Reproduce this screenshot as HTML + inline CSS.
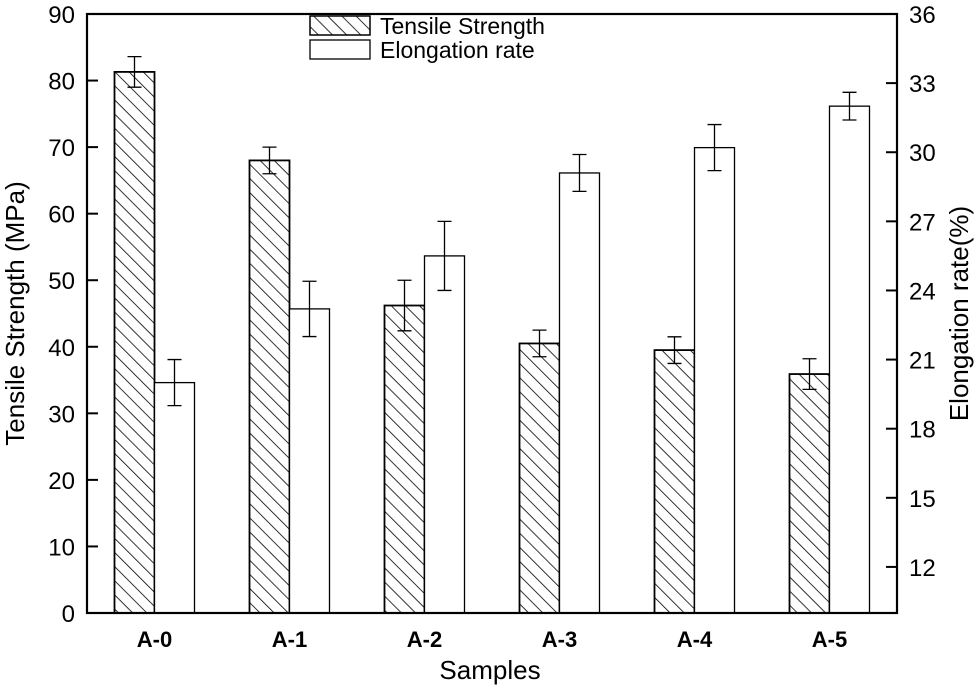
<!DOCTYPE html>
<html><head><meta charset="utf-8"><style>
body{margin:0;background:#fff;}
svg{display:block;font-family:"Liberation Sans",Arial,sans-serif;}
</style></head><body>
<svg id="chart" width="975" height="691" viewBox="0 0 975 691">
<defs>
<pattern id="hatch" patternUnits="userSpaceOnUse" width="10" height="10" patternTransform="rotate(-45)">
<rect width="10" height="10" fill="#fff"/>
<line x1="0" y1="0" x2="0" y2="10" stroke="#000" stroke-width="1.6"/>
</pattern>
</defs>
<g id="plot"></g>
</svg>
<script>
const categories=["A-0","A-1","A-2","A-3","A-4","A-5"];
const tensile=[81.3,68.0,46.2,40.5,39.5,35.9];
const tensileErr=[2.3,2.0,3.8,2.0,2.0,2.3];
const elong=[20.0,23.2,25.5,29.1,30.2,32.0];
const elongErr=[1.0,1.2,1.5,0.8,1.0,0.6];
const leftTicks=[0,10,20,30,40,50,60,70,80,90];
const rightTicks=[12,15,18,21,24,27,30,33,36];

const NS="http://www.w3.org/2000/svg";
const g=document.getElementById('plot');
const L=87,R=897,T=14,B=613;
const yL=v=>B-(v-0)/(90-0)*(B-T);
const yR=v=>B-(v-10)/(36-10)*(B-T);
const band=(R-L)/categories.length;
const xC=i=>L+band*(i+0.5);
const bw=40;
function el(tag,attrs,parent){const e=document.createElementNS(NS,tag);for(const k in attrs)e.setAttribute(k,attrs[k]);(parent||g).appendChild(e);return e;}
function errBar(x,y1,y2){
  return el('path',{d:`M${x},${y1}V${y2}M${x-7},${y1}H${x+7}M${x-7},${y2}H${x+7}`,stroke:'#000','stroke-width':1.3,fill:'none'});
}
categories.forEach((c,i)=>{
  const cx=xC(i);
  const r1=el('rect',{x:cx-bw,y:yL(tensile[i]),width:bw,height:B-yL(tensile[i]),fill:'url(#hatch)',stroke:'#000','stroke-width':1.8});
  
  
  const e1=errBar(cx-bw/2,yL(tensile[i]+tensileErr[i]),yL(tensile[i]-tensileErr[i]));
  
  
  const r2=el('rect',{x:cx,y:yR(elong[i]),width:bw,height:B-yR(elong[i]),fill:'#fff',stroke:'#000','stroke-width':1.3});
  
  
  const e2=errBar(cx+bw/2,yR(elong[i]+elongErr[i]),yR(elong[i]-elongErr[i]));
  
  
  const t=el('text',{x:cx,y:647,'text-anchor':'middle','font-size':22,'font-weight':'bold'});
  t.textContent=c;
  
  
});
const frame=el('rect',{x:L,y:T,width:R-L,height:B-T,fill:'none',stroke:'#000','stroke-width':2.2});


leftTicks.forEach(v=>{
  const y=yL(v);
  const tk=el('line',{x1:L,x2:L+11,y1:y,y2:y,stroke:'#000','stroke-width':2});
  
  
  const t=el('text',{x:L-12,y:y+9,'text-anchor':'end','font-size':24});
  t.textContent=v;
  
  
});
rightTicks.forEach(v=>{
  const y=yR(v);
  const tk=el('line',{x1:R-11,x2:R,y1:y,y2:y,stroke:'#000','stroke-width':2});
  
  
  const t=el('text',{x:R+12,y:y+9,'text-anchor':'start','font-size':24});
  t.textContent=v;
  
  
});
const yt=el('text',{x:0,y:0,'text-anchor':'middle','font-size':26,transform:`translate(24,${(T+B)/2}) rotate(-90)`});
yt.textContent='Tensile Strength (MPa)';


const yt2=el('text',{x:0,y:0,'text-anchor':'middle','font-size':26,transform:`translate(968,${(T+B)/2}) rotate(-90)`});
yt2.textContent='Elongation rate(%)';


const xt=el('text',{x:490,y:679,'text-anchor':'middle','font-size':26});
xt.textContent='Samples';


const lg=el('g',{});


el('rect',{x:310,y:16,width:60,height:19,fill:'url(#hatch)',stroke:'#000','stroke-width':1.5},lg);
el('rect',{x:310,y:40,width:60,height:19,fill:'#fff',stroke:'#000','stroke-width':1.3},lg);
const l1=el('text',{x:380,y:34,'font-size':23},lg);l1.textContent='Tensile Strength';
const l2=el('text',{x:380,y:58,'font-size':23},lg);l2.textContent='Elongation rate';
</script>
</body></html>
